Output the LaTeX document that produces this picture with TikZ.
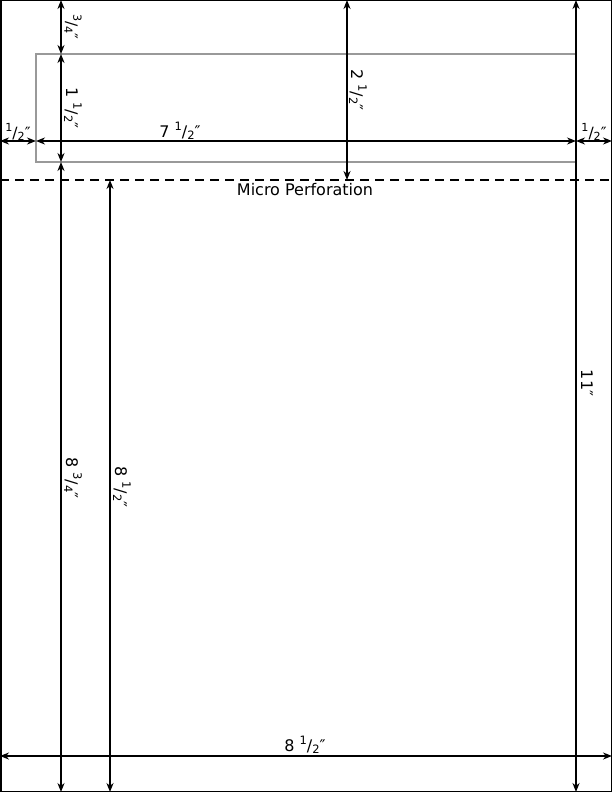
\documentclass[tikz,border=0pt]{standalone}
\usepackage{fontspec}
\setmainfont{DejaVu Sans}
\usetikzlibrary{arrows.meta}
\newcommand{\fr}[2]{\raisebox{0.45em}{\scalebox{0.72}{#1}}/\raisebox{-0.12em}{\scalebox{0.72}{#2}}″}
\tikzset{every picture/.style={line width=1.8pt}}
\tikzset{
  dimline/.style={{Stealth[length=9pt,width=7pt]}-{Stealth[length=9pt,width=7pt]}, line width=1.8pt},
  dimlbl/.style={inner sep=0pt, font=\fontsize{16}{19}\selectfont},
  vlbl/.style={dimlbl, rotate=-90},
  smalllbl/.style={inner sep=0pt, font=\fontsize{15.5}{18}\selectfont}
}

\begin{document}
\begin{tikzpicture}[x=1pt,y=1pt,yscale=-1,xscale=1]
\useasboundingbox (0,0) rectangle (612,792);

%Shape: Sheet
\draw [line width=1.5pt] (0.75,0.75) rectangle (611.25,791.25);
%Shape: Label area
\draw [color={rgb, 255:red, 153; green, 153; blue, 153 }, line width=1.1pt] (36,54) rectangle (576,162);
%Straight Lines: micro perforation
\draw [dash pattern=on 9pt off 6pt, line width=1.8pt] (0,180) -- (612,180);

% Coordinates
\coordinate (topA) at (61,0);
\coordinate (lblTop) at (61,54);
\coordinate (lblBot) at (61,162);
\coordinate (botA) at (61,792);
\coordinate (perfB) at (110,180);
\coordinate (botB) at (110,792);
\coordinate (topC) at (347,0);
\coordinate (perfC) at (347,180);
\coordinate (topD) at (576,0);
\coordinate (botD) at (576,792);
\coordinate (leftE) at (0,141);
\coordinate (lblLeft) at (36,141);
\coordinate (lblRight) at (576,141);
\coordinate (rightE) at (612,141);
\coordinate (leftF) at (0,756);
\coordinate (rightF) at (612,756);

%Straight Lines: vertical dimensions
\draw [dimline] (topA) -- (lblTop);
\draw [dimline] (lblTop) -- (lblBot);
\draw [dimline] (lblBot) -- (botA);
\draw [dimline] (perfB) -- (botB);
\draw [dimline] (topC) -- (perfC);
\draw [dimline] (topD) -- (botD);
%Straight Lines: horizontal dimensions
\draw [dimline] (leftE) -- (lblLeft);
\draw [dimline] (lblLeft) -- (lblRight);
\draw [dimline] (lblRight) -- (rightE);
\draw [dimline] (leftF) -- (rightF);

% Text Node
\node [smalllbl, rotate=-90] (tTopMargin) at (73,27) {\fr{3}{4}};
% Text Node
\node [vlbl] (tLblHeight) at (73,108) {1 \fr{1}{2}};
% Text Node
\node [vlbl] (tStub) at (358,90) {2 \fr{1}{2}};
% Text Node
\node [vlbl] (tPage) at (587,383) {11″};
% Text Node
\node [vlbl] (tBelowLbl) at (73,478) {8 \fr{3}{4}};
% Text Node
\node [vlbl] (tBelowPerf) at (122,487) {8 \fr{1}{2}};
% Text Node
\node [dimlbl] (tLblWidth) at (180,131) {7 \fr{1}{2}};
% Text Node
\node [smalllbl] (tLeftMargin) at (18,132) {\fr{1}{2}};
% Text Node
\node [smalllbl] (tRightMargin) at (594,132) {\fr{1}{2}};
% Text Node
\node [dimlbl] (tPageWidth) at (305,745) {8 \fr{1}{2}};
% Text Node
\node [dimlbl] (tPerf) at (305,190) {Micro Perforation};

\end{tikzpicture}
\end{document}
